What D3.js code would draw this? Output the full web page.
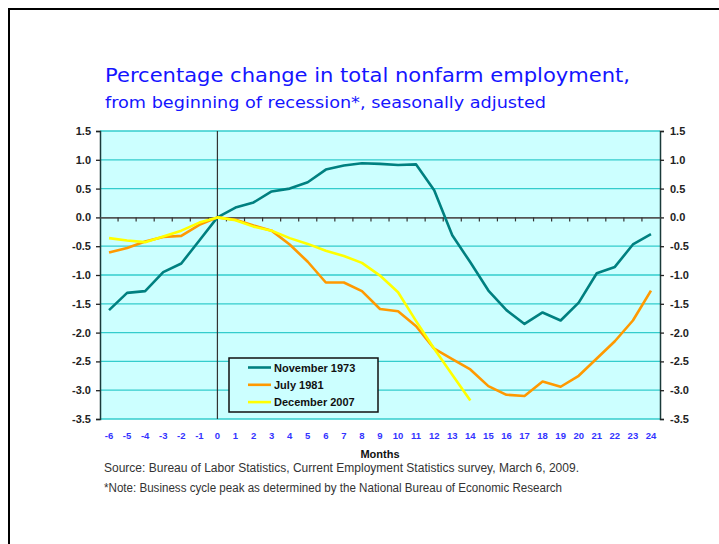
<!DOCTYPE html>
<html><head><meta charset="utf-8">
<script src="https://cdn.jsdelivr.net/npm/d3@7"></script>
<style>
html,body{margin:0;padding:0;background:#fff;}
svg{display:block;font-family:"Liberation Sans",Arial,sans-serif;}
</style></head>
<body>
<svg id="c" width="719" height="544"></svg>
<script>
const months = d3.range(-6, 25);
const yTicks = [1.5, 1.0, 0.5, 0.0, -0.5, -1.0, -1.5, -2.0, -2.5, -3.0, -3.5];
const seriesNames = ["November 1973", "July 1981", "December 2007"];
const seriesColors = ["#008080", "#FF9900", "#FFFF00"];
const nov1973 = [-1.61,-1.31,-1.28,-0.95,-0.80,-0.40,0,0.17,0.26,0.45,0.50,0.61,0.83,0.90,0.94,0.93,0.91,0.92,0.47,-0.31,-0.78,-1.27,-1.61,-1.85,-1.65,-1.79,-1.48,-0.97,-0.86,-0.47,-0.29];
const jul1981 = [-0.61,-0.53,-0.42,-0.34,-0.32,-0.13,0,-0.04,-0.14,-0.23,-0.47,-0.77,-1.13,-1.13,-1.28,-1.59,-1.63,-1.89,-2.28,-2.46,-2.64,-2.93,-3.08,-3.10,-2.85,-2.94,-2.75,-2.45,-2.15,-1.79,-1.27];
const dec2007 = [-0.36,-0.40,-0.43,-0.33,-0.23,-0.09,0,-0.05,-0.16,-0.23,-0.36,-0.46,-0.58,-0.67,-0.79,-1.01,-1.30,-1.80,-2.28,-2.73,-3.18];
const seriesData = [nov1973, jul1981, dec2007];

const svg = d3.select("#c");
const L = 100, R = 660, T = 131, B = 419;
const x = d3.scaleBand().domain(months).range([L, R]).padding(0);
const y = d3.scaleLinear().domain([-3.5, 1.5]).range([B, T]);
const cx = m => x(m) + x.bandwidth() / 2;

// frame
svg.append("path").attr("d", "M9,544 L9,9 L719,9").attr("fill", "none").attr("stroke", "#000").attr("stroke-width", 2);

// plot bg
svg.append("rect").attr("x", L).attr("y", T).attr("width", R - L).attr("height", B - T).attr("fill", "#CCFFFF");

// grid
svg.append("g").selectAll("line").data(yTicks.filter(d => d !== 0)).join("line")
  .attr("x1", L).attr("x2", R).attr("y1", d => y(d)).attr("y2", d => y(d))
  .attr("stroke", "#33CCCC").attr("stroke-width", 1.3);

// y axes
const gl = svg.append("g").attr("transform", `translate(${L},0)`)
  .call(d3.axisLeft(y).tickValues(yTicks).tickSize(4).tickPadding(5).tickFormat(d3.format(".1f")));
const gr = svg.append("g").attr("transform", `translate(${R},0)`)
  .call(d3.axisRight(y).tickValues(yTicks).tickSize(4).tickPadding(6).tickFormat(d3.format(".1f")));
[gl, gr].forEach(g => {
  g.select(".domain").attr("stroke", "#1a3a3a").attr("stroke-width", 1.5);
  g.selectAll(".tick line").attr("stroke", "#222").attr("stroke-width", 1.3);
  g.selectAll("text").attr("font-family", "Liberation Sans, Arial, sans-serif")
    .attr("font-size", 11).attr("font-weight", "bold").attr("fill", "#222")
    .text(d => d3.format(".1f")(d).replace("−", "-"));
});

// zero axis with ticks
const gx = svg.append("g").attr("transform", `translate(0,${y(0)})`)
  .call(d3.axisBottom(x).tickValues([]).tickSizeOuter(0));
gx.select(".domain").attr("stroke", "#555").attr("stroke-width", 1.8);
svg.append("g").selectAll("line").data(months.slice(1)).join("line")
  .attr("x1", d => x(d)).attr("x2", d => x(d)).attr("y1", y(0)).attr("y2", y(0) + 4)
  .attr("stroke", "#333").attr("stroke-width", 1.2);

// vertical line at month 0
svg.append("line").attr("x1", cx(0)).attr("x2", cx(0)).attr("y1", T).attr("y2", B)
  .attr("stroke", "#333").attr("stroke-width", 1.2);

// x labels
svg.append("g").selectAll("text").data(months).join("text")
  .attr("x", d => cx(d)).attr("y", 439).attr("text-anchor", "middle")
  .attr("font-size", 9.5).attr("font-weight", "bold").attr("fill", "#3333FF")
  .text(d => String(d));

svg.append("text").attr("x", (L + R) / 2).attr("y", 458).attr("text-anchor", "middle")
  .attr("font-size", 11).attr("font-weight", "bold").attr("fill", "#111").text("Months");

// lines
const line = d3.line().x((d, i) => cx(months[i])).y(d => y(d));
seriesData.forEach((s, k) => {
  svg.append("path").datum(s).attr("d", line).attr("fill", "none")
    .attr("stroke", seriesColors[k]).attr("stroke-width", 2.6).attr("stroke-linejoin", "round");
});

// legend
const lg = svg.append("g");
lg.append("rect").attr("x", 229).attr("y", 358).attr("width", 149).attr("height", 54)
  .attr("fill", "#CCFFFF").attr("stroke", "#111").attr("stroke-width", 1.5);
seriesNames.forEach((n, k) => {
  const yy = 367.5 + k * 17.3;
  lg.append("line").attr("x1", 248).attr("x2", 271).attr("y1", yy).attr("y2", yy)
    .attr("stroke", seriesColors[k]).attr("stroke-width", 2.6);
  lg.append("text").attr("x", 274).attr("y", yy + 4).attr("font-size", 11).attr("font-weight", "bold")
    .attr("fill", "#111").text(n);
});

// titles
svg.append("text").attr("x", 105).attr("y", 82).attr("font-size", 20)
  .attr("font-family", "DejaVu Sans, Verdana, sans-serif").attr("fill", "#1414FF")
  .attr("textLength", 525).attr("lengthAdjust", "spacingAndGlyphs")
  .text("Percentage change in total nonfarm employment,");
svg.append("text").attr("x", 105).attr("y", 108).attr("font-size", 16)
  .attr("font-family", "DejaVu Sans, Verdana, sans-serif").attr("fill", "#1414FF")
  .attr("textLength", 441).attr("lengthAdjust", "spacingAndGlyphs")
  .text("from beginning of recession*, seasonally adjusted");

// notes
svg.append("text").attr("x", 104).attr("y", 472).attr("font-size", 12).attr("fill", "#333")
  .attr("textLength", 475).attr("lengthAdjust", "spacingAndGlyphs")
  .text("Source:  Bureau of Labor Statistics, Current Employment Statistics survey, March 6, 2009.");
svg.append("text").attr("x", 104).attr("y", 492).attr("font-size", 12).attr("fill", "#333")
  .attr("textLength", 458).attr("lengthAdjust", "spacingAndGlyphs")
  .text("*Note:  Business cycle peak as determined by the National Bureau of Economic Research");
</script>
</body></html>
